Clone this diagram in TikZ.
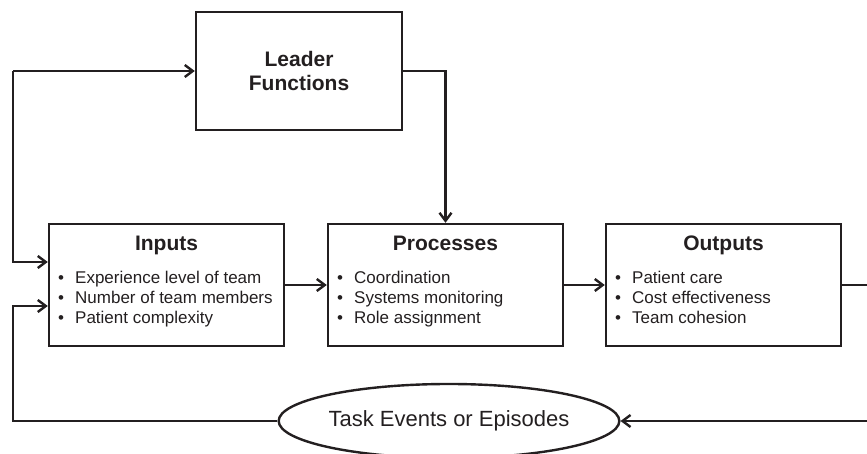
\documentclass[tikz,border=0pt]{standalone}
\usepackage{fontspec}
\setmainfont{Liberation Sans}
\usepackage{tikz}
\usetikzlibrary{arrows.meta}
\usetikzlibrary{shapes.geometric}
\definecolor{ink}{HTML}{231F20}
\tikzset{box/.style = {draw = ink, line width = 2.4pt, minimum width = 235pt, minimum height = 122pt, inner sep = 0pt}}
\tikzset{head/.style = {anchor = base, inner sep = 0pt, text = ink, font = \fontsize{21}{24}\selectfont\bfseries}}
\tikzset{item/.style = {anchor = base west, inner sep = 0pt, text = ink, font = \fontsize{17}{20}\selectfont}}
\tikzset{arr/.style = {draw = ink, line width = 2.4pt, -{Straight Barb[length = 8pt, width = 12pt]}}}

\begin{document}
\begin{tikzpicture}[x = 1pt, y = 1pt]
    \useasboundingbox (0, 0) rectangle (867, 454);
    \node [box, minimum width = 206pt, minimum height = 118pt, align = center, text = ink, font = \fontsize{21}{24}\selectfont\bfseries] (leader) at (299, 383) {Leader\\Functions};
    \foreach \x\n\t in {166.5/inputs/Inputs, 445.5/processes/Processes, 723.5/outputs/Outputs} {
        \node [box] (\n) at (\x, 169) {};
        \node [head] (\n-head) at (\x, 203) {\t};
    }
    \foreach \t [count = \i] in {Experience level of team, Number of team members, Patient complexity}
        \node [item] (inputs-\i) at (58, 190 - 20 * \i) {\makebox[17pt][l]{\textbullet}\t};
    \foreach \t [count = \i] in {Coordination, Systems monitoring, Role assignment}
        \node [item] (processes-\i) at (337, 190 - 20 * \i) {\makebox[17pt][l]{\textbullet}\t};
    \foreach \t [count = \i] in {Patient care, Cost effectiveness, Team cohesion}
        \node [item] (outputs-\i) at (615, 190 - 20 * \i) {\makebox[17pt][l]{\textbullet}\t};
    \node [draw = ink, line width = 2.4pt, ellipse, minimum width = 338pt, minimum height = 74pt, inner sep = 0pt, text = ink, font = \fontsize{22}{24}\selectfont] (events) at (449, 33) {Task Events or Episodes};
    % corners of the loops
    \coordinate (ltop) at (13, 383);
    \coordinate (lbot) at (13, 33);
    \coordinate (rtop) at (874, 169);
    \coordinate (rbot) at (874, 33);
    \draw [arr] (ltop) -- (leader.west);
    \draw [arr] (ltop) |- ([yshift = 23pt] inputs.west);
    \draw [arr] (leader.east) -| (processes.north);
    \draw [arr] (inputs.east) -- (processes.west);
    \draw [arr] (processes.east) -- (outputs.west);
    \draw [arr] (outputs.east) -- (rtop) -- (rbot) -- (events.east);
    \draw [arr] (events.west) -- (lbot) |- ([yshift = -21pt] inputs.west);
\end{tikzpicture}
\end{document}
